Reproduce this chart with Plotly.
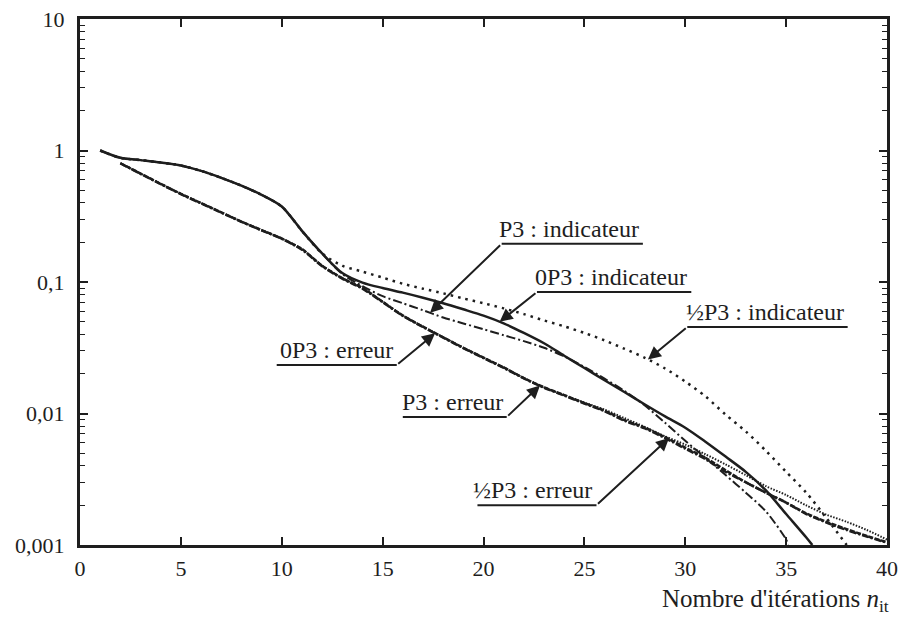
import numpy as np
import plotly.graph_objects as go

# ---- data ----
x_0p3_ind = [1, 2, 3, 4, 5, 6, 7, 8, 9, 10, 11, 12, 13, 14, 15, 16, 17, 18, 19, 20,
             21, 22, 23, 24, 25, 26, 27, 28, 29, 30, 31, 32, 33, 34, 35, 36, 36.3]
y_0p3_ind = [1.0, 0.88, 0.845, 0.81, 0.77, 0.70, 0.62, 0.54, 0.46, 0.375, 0.245, 0.165,
             0.117, 0.099, 0.09, 0.083, 0.076, 0.069, 0.062, 0.0555, 0.0485, 0.041, 0.0342,
             0.0275, 0.0222, 0.0179, 0.0145, 0.0117, 0.0095, 0.0078, 0.0061, 0.0047, 0.0036,
             0.0026, 0.00172, 0.00114, 0.001]

x_p3_ind = [1, 2, 3, 4, 5, 6, 7, 8, 9, 10, 11, 12, 13, 14, 15, 16, 17, 18, 19, 20,
            21, 22, 23, 24, 25, 26, 27, 28, 29, 30, 31, 32, 33, 34, 35, 35.1]
y_p3_ind = [1.0, 0.88, 0.845, 0.81, 0.77, 0.70, 0.62, 0.54, 0.46, 0.375, 0.245, 0.165,
            0.115, 0.093, 0.078, 0.069, 0.061, 0.0537, 0.0484, 0.0437, 0.0394, 0.0355,
            0.0316, 0.0272, 0.0226, 0.0184, 0.0148, 0.0115, 0.0085, 0.0062, 0.0046, 0.0034,
            0.0025, 0.0018, 0.0011, 0.001]

x_half_ind = [1, 2, 3, 4, 5, 6, 7, 8, 9, 10, 11, 12, 13, 14, 15, 16, 17, 18, 19, 20,
              21, 22, 23, 24, 25, 26, 27, 28, 29, 30, 31, 32, 33, 34, 35, 36, 37, 38]
y_half_ind = [1.0, 0.88, 0.845, 0.81, 0.77, 0.70, 0.62, 0.54, 0.46, 0.375, 0.245, 0.165,
              0.133, 0.12, 0.108, 0.097, 0.089, 0.082, 0.075, 0.069, 0.063, 0.057, 0.051,
              0.046, 0.041, 0.036, 0.031, 0.0265, 0.022, 0.0175, 0.0135, 0.0098, 0.0073,
              0.0052, 0.0036, 0.0025, 0.0016, 0.001]

x_err = [2, 3, 4, 5, 6, 7, 8, 9, 10, 11, 12, 13, 14, 15, 16, 17, 18, 19, 20, 21,
         22, 23, 24, 25, 26, 27, 28, 29, 30, 31, 32, 33, 34, 35, 36, 37, 38, 39, 40]
y_p3_err = [0.80, 0.668, 0.558, 0.468, 0.398, 0.339, 0.288, 0.248, 0.214, 0.178, 0.133,
            0.107, 0.090, 0.0708, 0.0556, 0.0457, 0.038, 0.0316, 0.0266, 0.0224, 0.0186,
            0.0158, 0.0138, 0.012, 0.0105, 0.0089, 0.0078, 0.0066, 0.0055, 0.0046, 0.0037,
            0.003, 0.0025, 0.0021, 0.00174, 0.0015, 0.00132, 0.00117, 0.00105]
y_0p3_err = [0.80, 0.665, 0.555, 0.466, 0.396, 0.337, 0.287, 0.247, 0.213, 0.176, 0.132,
             0.106, 0.089, 0.0702, 0.0552, 0.0454, 0.0378, 0.0314, 0.0264, 0.0222, 0.0185,
             0.0157, 0.0137, 0.0119, 0.0104, 0.0088, 0.0077, 0.0065, 0.0054, 0.0045, 0.0036,
             0.003, 0.0025, 0.0021, 0.00172, 0.00148, 0.0013, 0.00116, 0.00104]
y_half_err = [0.80, 0.668, 0.558, 0.468, 0.398, 0.339, 0.288, 0.248, 0.214, 0.178, 0.133,
              0.107, 0.090, 0.0708, 0.0556, 0.0457, 0.038, 0.0316, 0.0266, 0.0224, 0.0186,
              0.0158, 0.0138, 0.0121, 0.0107, 0.0092, 0.0079, 0.0067, 0.0058, 0.0049, 0.0041,
              0.0034, 0.0028, 0.0024, 0.002, 0.0017, 0.0015, 0.0013, 0.0011]

x_ticks = [0, 5, 10, 15, 20, 25, 30, 35, 40]
y_ticks = [0.001, 0.01, 0.1, 1, 10]
y_tick_text = ['0,001', '0,01', '0,1', '1', '10']

INK = '#1e1e1e'
FONT = "'Liberation Serif', 'Times New Roman', 'DejaVu Serif', serif"

curves = {
    '0P3 : indicateur': (x_0p3_ind, y_0p3_ind, dict(width=2.5, dash='solid')),
    'P3 : indicateur': (x_p3_ind, y_p3_ind, dict(width=2, dash='9px,3px,2px,3px')),
    '½P3 : indicateur': (x_half_ind, y_half_ind, dict(width=2.5, dash='2.5px,5px')),
    'P3 : erreur': (x_err, y_p3_err, dict(width=2.5, dash='5px,1.5px')),
    '0P3 : erreur': (x_err, y_0p3_err, dict(width=2.5, dash='7px,2px,2px,2px')),
    '½P3 : erreur': (x_err, y_half_err, dict(width=2, dash='1.5px,1.5px')),
}

fig = go.Figure()

for name, (xs, ys, style) in curves.items():
    fig.add_trace(go.Scatter(
        x=xs, y=ys, mode='lines', name=name,
        line=dict(color=INK, shape='spline', smoothing=0.8, **style),
    ))

# labels: underline span (x0, x1, y), which end the leader starts from, where it points
labels = [
    ('P3 : indicateur', 20.9, 27.9, 0.195, 'left', 17.35),
    ('0P3 : indicateur', 22.65, 30.3, 0.084, 'left', 20.8),
    ('½P3 : indicateur', 30.1, 38.05, 0.0455, 'left', 28.15),
    ('0P3 : erreur', 9.75, 15.7, 0.0234, 'right', 17.6),
    ('P3 : erreur', 16.0, 21.15, 0.0094, 'right', 22.8),
    ('½P3 : erreur', 19.7, 25.6, 0.00201, 'right', 29.2),
]

for text, x0, x1, yl, side, tip_x in labels:
    xs, ys, _ = curves[text]
    tip_y = np.interp(tip_x, xs, np.log10(ys))
    tail_x = x0 if side == 'left' else x1
    fig.add_trace(go.Scatter(
        x=[x0, x1], y=[yl, yl], mode='lines', showlegend=False, hoverinfo='skip',
        line=dict(color=INK, width=2),
    ))
    fig.add_annotation(
        x=tip_x, y=tip_y, xref='x', yref='y',
        ax=tail_x, ay=np.log10(yl), axref='x', ayref='y',
        text='', showarrow=True, arrowhead=2, arrowsize=1.3, arrowwidth=2,
        arrowcolor=INK, standoff=0, startstandoff=0,
    )
    fig.add_annotation(
        x=x1, y=np.log10(yl), xref='x', yref='y', text=text, showarrow=False,
        xanchor='right', yanchor='bottom', xshift=-2, yshift=0,
        font=dict(family=FONT, size=24, color=INK),
    )

minor_vals = [m * 10.0 ** e for e in range(-3, 1) for m in range(2, 10)]

fig.update_layout(
    width=904, height=618,
    margin=dict(l=80, r=17, t=19, b=73),
    plot_bgcolor='white', paper_bgcolor='white',
    showlegend=False,
    font=dict(family=FONT, size=22, color=INK),
    xaxis=dict(
        range=[0, 40], tickvals=x_ticks, showgrid=False, zeroline=False,
        showline=True, linewidth=3, linecolor=INK, mirror='ticks',
        ticks='inside', ticklen=8, tickwidth=1.5, tickcolor=INK,
        ticklabelstandoff=2, automargin=False, ticklabeloverflow='allow',
    ),
    yaxis=dict(
        type='log', range=[-3, 1], tickvals=y_ticks, ticktext=y_tick_text,
        showgrid=False, zeroline=False,
        showline=True, linewidth=3, linecolor=INK, mirror='ticks',
        ticks='inside', ticklen=8, tickwidth=1.5, tickcolor=INK,
        ticklabelstandoff=8, automargin=False, ticklabeloverflow='allow',
        minor=dict(tickmode='array', tickvals=minor_vals, ticks='inside',
                   ticklen=5, tickwidth=1, tickcolor=INK, showgrid=False),
    ),
)

fig.add_annotation(
    x=1.0, y=-0.105, xref='paper', yref='paper', xanchor='right', yanchor='middle',
    xshift=4, text="Nombre d'itérations <i>n</i><sub>it</sub>", showarrow=False,
    font=dict(family=FONT, size=25, color=INK),
)

# drop the browser's default 8px body margin so the figure sits at the window corner
fig.write_html("out.html", config={'displayModeBar': False},
               post_script="document.body.style.margin = '0';")
